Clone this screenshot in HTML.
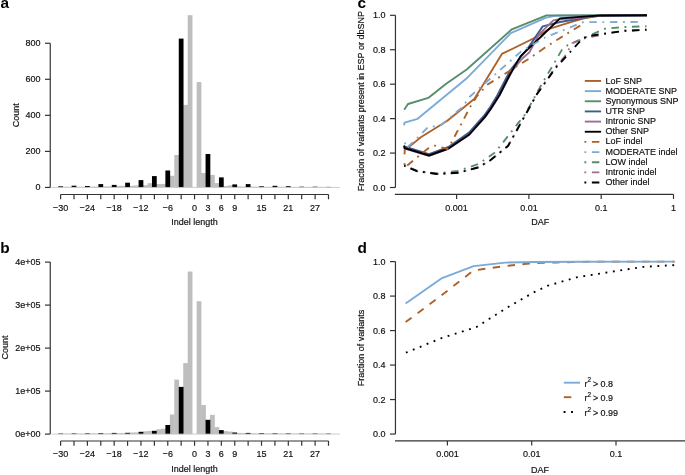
<!DOCTYPE html>
<html><head><meta charset="utf-8"><style>
html,body{margin:0;padding:0;background:#fff;}
svg{display:block;will-change:transform;}
text{font-family:"Liberation Sans",sans-serif;}
</style></head><body>
<svg width="685" height="475" viewBox="0 0 685 475">
<rect width="685" height="475" fill="#fff"/>
<rect x="62.68" y="186.80" width="4.76" height="0.65" fill="#bebebe"/>
<rect x="67.15" y="186.80" width="4.76" height="0.65" fill="#bebebe"/>
<rect x="76.08" y="186.80" width="4.76" height="0.65" fill="#bebebe"/>
<rect x="80.54" y="186.80" width="4.76" height="0.65" fill="#bebebe"/>
<rect x="89.47" y="186.60" width="4.76" height="0.85" fill="#bebebe"/>
<rect x="93.94" y="186.60" width="4.76" height="0.85" fill="#bebebe"/>
<rect x="102.87" y="186.40" width="4.76" height="1.05" fill="#bebebe"/>
<rect x="107.33" y="186.40" width="4.76" height="1.05" fill="#bebebe"/>
<rect x="116.26" y="185.90" width="4.76" height="1.55" fill="#bebebe"/>
<rect x="120.73" y="185.80" width="4.76" height="1.65" fill="#bebebe"/>
<rect x="129.66" y="185.80" width="4.76" height="1.65" fill="#bebebe"/>
<rect x="134.12" y="185.50" width="4.76" height="1.95" fill="#bebebe"/>
<rect x="143.05" y="185.20" width="4.76" height="2.25" fill="#bebebe"/>
<rect x="147.52" y="183.20" width="4.76" height="4.25" fill="#bebebe"/>
<rect x="156.45" y="184.00" width="4.76" height="3.45" fill="#bebebe"/>
<rect x="160.91" y="183.90" width="4.76" height="3.55" fill="#bebebe"/>
<rect x="169.84" y="175.80" width="4.76" height="11.65" fill="#bebebe"/>
<rect x="174.31" y="155.00" width="4.76" height="32.45" fill="#bebebe"/>
<rect x="183.24" y="104.90" width="4.76" height="82.55" fill="#bebebe"/>
<rect x="187.70" y="15.20" width="4.76" height="172.25" fill="#bebebe"/>
<rect x="196.63" y="82.10" width="4.76" height="105.35" fill="#bebebe"/>
<rect x="201.10" y="173.00" width="4.76" height="14.45" fill="#bebebe"/>
<rect x="210.03" y="174.90" width="4.76" height="12.55" fill="#bebebe"/>
<rect x="214.49" y="183.10" width="4.76" height="4.35" fill="#bebebe"/>
<rect x="223.42" y="186.00" width="4.76" height="1.45" fill="#bebebe"/>
<rect x="227.89" y="185.40" width="4.76" height="2.05" fill="#bebebe"/>
<rect x="236.82" y="186.40" width="4.76" height="1.05" fill="#bebebe"/>
<rect x="241.28" y="186.60" width="4.76" height="0.85" fill="#bebebe"/>
<rect x="250.21" y="186.70" width="4.76" height="0.75" fill="#bebebe"/>
<rect x="254.68" y="186.70" width="4.76" height="0.75" fill="#bebebe"/>
<rect x="263.61" y="186.80" width="4.76" height="0.65" fill="#bebebe"/>
<rect x="268.07" y="186.80" width="4.76" height="0.65" fill="#bebebe"/>
<rect x="277.00" y="186.80" width="4.76" height="0.65" fill="#bebebe"/>
<rect x="281.47" y="186.80" width="4.76" height="0.65" fill="#bebebe"/>
<rect x="290.40" y="186.90" width="4.76" height="0.55" fill="#bebebe"/>
<rect x="294.86" y="186.90" width="4.76" height="0.55" fill="#bebebe"/>
<rect x="303.79" y="186.90" width="4.76" height="0.55" fill="#bebebe"/>
<rect x="308.26" y="186.90" width="4.76" height="0.55" fill="#bebebe"/>
<rect x="317.19" y="186.90" width="4.76" height="0.55" fill="#bebebe"/>
<rect x="321.65" y="186.90" width="4.76" height="0.55" fill="#bebebe"/>
<rect x="58.22" y="186.30" width="4.76" height="1.15" fill="#000"/>
<rect x="71.61" y="185.70" width="4.76" height="1.75" fill="#000"/>
<rect x="85.01" y="186.00" width="4.76" height="1.45" fill="#000"/>
<rect x="98.40" y="184.10" width="4.76" height="3.35" fill="#000"/>
<rect x="111.80" y="184.90" width="4.76" height="2.55" fill="#000"/>
<rect x="125.19" y="182.70" width="4.76" height="4.75" fill="#000"/>
<rect x="138.59" y="180.10" width="4.76" height="7.35" fill="#000"/>
<rect x="151.98" y="176.10" width="4.76" height="11.35" fill="#000"/>
<rect x="165.38" y="170.50" width="4.76" height="16.95" fill="#000"/>
<rect x="178.77" y="38.60" width="4.76" height="148.85" fill="#000"/>
<rect x="205.56" y="154.00" width="4.76" height="33.45" fill="#000"/>
<rect x="218.96" y="177.40" width="4.76" height="10.05" fill="#000"/>
<rect x="232.35" y="184.40" width="4.76" height="3.05" fill="#000"/>
<rect x="245.75" y="184.10" width="4.76" height="3.35" fill="#000"/>
<rect x="259.14" y="186.30" width="4.76" height="1.15" fill="#000"/>
<rect x="272.54" y="185.80" width="4.76" height="1.65" fill="#000"/>
<rect x="285.93" y="186.20" width="4.76" height="1.25" fill="#000"/>
<rect x="299.33" y="186.70" width="4.76" height="0.75" fill="#000"/>
<rect x="312.72" y="186.70" width="4.76" height="0.75" fill="#000"/>
<rect x="326.12" y="186.90" width="4.76" height="0.55" fill="#000"/>
<line x1="51.50" y1="187.45" x2="340.00" y2="187.45" stroke="#c8c8c8" stroke-width="0.9" />
<line x1="50.25" y1="43.25" x2="50.25" y2="187.45" stroke="#333" stroke-width="1.2" />
<line x1="45.00" y1="187.45" x2="50.25" y2="187.45" stroke="#333" stroke-width="1.2" />
<text transform="translate(40.60 190.35) scale(1 1.1)" text-anchor="end" font-size="9.0" font-weight="normal" fill="#111" stroke="#111" stroke-width="0.18">0</text>
<line x1="45.00" y1="151.40" x2="50.25" y2="151.40" stroke="#333" stroke-width="1.2" />
<text transform="translate(40.60 154.30) scale(1 1.1)" text-anchor="end" font-size="9.0" font-weight="normal" fill="#111" stroke="#111" stroke-width="0.18">200</text>
<line x1="45.00" y1="115.35" x2="50.25" y2="115.35" stroke="#333" stroke-width="1.2" />
<text transform="translate(40.60 118.25) scale(1 1.1)" text-anchor="end" font-size="9.0" font-weight="normal" fill="#111" stroke="#111" stroke-width="0.18">400</text>
<line x1="45.00" y1="79.30" x2="50.25" y2="79.30" stroke="#333" stroke-width="1.2" />
<text transform="translate(40.60 82.20) scale(1 1.1)" text-anchor="end" font-size="9.0" font-weight="normal" fill="#111" stroke="#111" stroke-width="0.18">600</text>
<line x1="45.00" y1="43.25" x2="50.25" y2="43.25" stroke="#333" stroke-width="1.2" />
<text transform="translate(40.60 46.15) scale(1 1.1)" text-anchor="end" font-size="9.0" font-weight="normal" fill="#111" stroke="#111" stroke-width="0.18">800</text>
<line x1="60.60" y1="194.50" x2="328.50" y2="194.50" stroke="#333" stroke-width="1.2" />
<line x1="60.60" y1="194.50" x2="60.60" y2="199.30" stroke="#333" stroke-width="1.2" />
<line x1="74.00" y1="194.50" x2="74.00" y2="199.30" stroke="#333" stroke-width="1.2" />
<line x1="87.39" y1="194.50" x2="87.39" y2="199.30" stroke="#333" stroke-width="1.2" />
<line x1="100.79" y1="194.50" x2="100.79" y2="199.30" stroke="#333" stroke-width="1.2" />
<line x1="114.18" y1="194.50" x2="114.18" y2="199.30" stroke="#333" stroke-width="1.2" />
<line x1="127.58" y1="194.50" x2="127.58" y2="199.30" stroke="#333" stroke-width="1.2" />
<line x1="140.97" y1="194.50" x2="140.97" y2="199.30" stroke="#333" stroke-width="1.2" />
<line x1="154.37" y1="194.50" x2="154.37" y2="199.30" stroke="#333" stroke-width="1.2" />
<line x1="167.76" y1="194.50" x2="167.76" y2="199.30" stroke="#333" stroke-width="1.2" />
<line x1="181.16" y1="194.50" x2="181.16" y2="199.30" stroke="#333" stroke-width="1.2" />
<line x1="194.55" y1="194.50" x2="194.55" y2="199.30" stroke="#333" stroke-width="1.2" />
<line x1="207.95" y1="194.50" x2="207.95" y2="199.30" stroke="#333" stroke-width="1.2" />
<line x1="221.34" y1="194.50" x2="221.34" y2="199.30" stroke="#333" stroke-width="1.2" />
<line x1="234.74" y1="194.50" x2="234.74" y2="199.30" stroke="#333" stroke-width="1.2" />
<line x1="248.13" y1="194.50" x2="248.13" y2="199.30" stroke="#333" stroke-width="1.2" />
<line x1="261.52" y1="194.50" x2="261.52" y2="199.30" stroke="#333" stroke-width="1.2" />
<line x1="274.92" y1="194.50" x2="274.92" y2="199.30" stroke="#333" stroke-width="1.2" />
<line x1="288.31" y1="194.50" x2="288.31" y2="199.30" stroke="#333" stroke-width="1.2" />
<line x1="301.71" y1="194.50" x2="301.71" y2="199.30" stroke="#333" stroke-width="1.2" />
<line x1="315.11" y1="194.50" x2="315.11" y2="199.30" stroke="#333" stroke-width="1.2" />
<line x1="328.50" y1="194.50" x2="328.50" y2="199.30" stroke="#333" stroke-width="1.2" />
<text transform="translate(60.60 210.80) scale(1 1.1)" text-anchor="middle" font-size="9.0" font-weight="normal" fill="#111" stroke="#111" stroke-width="0.18">−30</text>
<text transform="translate(87.39 210.80) scale(1 1.1)" text-anchor="middle" font-size="9.0" font-weight="normal" fill="#111" stroke="#111" stroke-width="0.18">−24</text>
<text transform="translate(114.18 210.80) scale(1 1.1)" text-anchor="middle" font-size="9.0" font-weight="normal" fill="#111" stroke="#111" stroke-width="0.18">−18</text>
<text transform="translate(140.97 210.80) scale(1 1.1)" text-anchor="middle" font-size="9.0" font-weight="normal" fill="#111" stroke="#111" stroke-width="0.18">−12</text>
<text transform="translate(167.76 210.80) scale(1 1.1)" text-anchor="middle" font-size="9.0" font-weight="normal" fill="#111" stroke="#111" stroke-width="0.18">−6</text>
<text transform="translate(194.55 210.80) scale(1 1.1)" text-anchor="middle" font-size="9.0" font-weight="normal" fill="#111" stroke="#111" stroke-width="0.18">0</text>
<text transform="translate(207.95 210.80) scale(1 1.1)" text-anchor="middle" font-size="9.0" font-weight="normal" fill="#111" stroke="#111" stroke-width="0.18">3</text>
<text transform="translate(221.34 210.80) scale(1 1.1)" text-anchor="middle" font-size="9.0" font-weight="normal" fill="#111" stroke="#111" stroke-width="0.18">6</text>
<text transform="translate(234.74 210.80) scale(1 1.1)" text-anchor="middle" font-size="9.0" font-weight="normal" fill="#111" stroke="#111" stroke-width="0.18">9</text>
<text transform="translate(261.52 210.80) scale(1 1.1)" text-anchor="middle" font-size="9.0" font-weight="normal" fill="#111" stroke="#111" stroke-width="0.18">15</text>
<text transform="translate(288.31 210.80) scale(1 1.1)" text-anchor="middle" font-size="9.0" font-weight="normal" fill="#111" stroke="#111" stroke-width="0.18">21</text>
<text transform="translate(315.11 210.80) scale(1 1.1)" text-anchor="middle" font-size="9.0" font-weight="normal" fill="#111" stroke="#111" stroke-width="0.18">27</text>
<text transform="translate(194.60 225.00) scale(1 1.1)" text-anchor="middle" font-size="9.0" font-weight="normal" fill="#111" stroke="#111" stroke-width="0.18">Indel length</text>
<text transform="translate(19.20 115.30) rotate(-90) scale(1 1.1)" text-anchor="middle" font-size="9.0" font-weight="normal" fill="#111" stroke="#111" stroke-width="0.18">Count</text>
<rect x="62.68" y="433.60" width="4.76" height="0.50" fill="#bebebe"/>
<rect x="67.15" y="433.60" width="4.76" height="0.50" fill="#bebebe"/>
<rect x="76.08" y="433.60" width="4.76" height="0.50" fill="#bebebe"/>
<rect x="80.54" y="433.60" width="4.76" height="0.50" fill="#bebebe"/>
<rect x="89.47" y="433.50" width="4.76" height="0.60" fill="#bebebe"/>
<rect x="93.94" y="433.50" width="4.76" height="0.60" fill="#bebebe"/>
<rect x="102.87" y="433.40" width="4.76" height="0.70" fill="#bebebe"/>
<rect x="107.33" y="433.30" width="4.76" height="0.80" fill="#bebebe"/>
<rect x="116.26" y="433.10" width="4.76" height="1.00" fill="#bebebe"/>
<rect x="120.73" y="433.00" width="4.76" height="1.10" fill="#bebebe"/>
<rect x="129.66" y="432.50" width="4.76" height="1.60" fill="#bebebe"/>
<rect x="134.12" y="432.40" width="4.76" height="1.70" fill="#bebebe"/>
<rect x="143.05" y="431.30" width="4.76" height="2.80" fill="#bebebe"/>
<rect x="147.52" y="430.90" width="4.76" height="3.20" fill="#bebebe"/>
<rect x="156.45" y="429.30" width="4.76" height="4.80" fill="#bebebe"/>
<rect x="160.91" y="428.70" width="4.76" height="5.40" fill="#bebebe"/>
<rect x="169.84" y="414.50" width="4.76" height="19.60" fill="#bebebe"/>
<rect x="174.31" y="379.60" width="4.76" height="54.50" fill="#bebebe"/>
<rect x="183.24" y="363.10" width="4.76" height="71.00" fill="#bebebe"/>
<rect x="187.70" y="271.50" width="4.76" height="162.60" fill="#bebebe"/>
<rect x="196.63" y="301.20" width="4.76" height="132.90" fill="#bebebe"/>
<rect x="201.10" y="405.00" width="4.76" height="29.10" fill="#bebebe"/>
<rect x="210.03" y="414.90" width="4.76" height="19.20" fill="#bebebe"/>
<rect x="214.49" y="427.10" width="4.76" height="7.00" fill="#bebebe"/>
<rect x="223.42" y="431.10" width="4.76" height="3.00" fill="#bebebe"/>
<rect x="227.89" y="431.60" width="4.76" height="2.50" fill="#bebebe"/>
<rect x="236.82" y="432.90" width="4.76" height="1.20" fill="#bebebe"/>
<rect x="241.28" y="433.00" width="4.76" height="1.10" fill="#bebebe"/>
<rect x="250.21" y="433.30" width="4.76" height="0.80" fill="#bebebe"/>
<rect x="254.68" y="433.30" width="4.76" height="0.80" fill="#bebebe"/>
<rect x="263.61" y="433.40" width="4.76" height="0.70" fill="#bebebe"/>
<rect x="268.07" y="433.40" width="4.76" height="0.70" fill="#bebebe"/>
<rect x="277.00" y="433.50" width="4.76" height="0.60" fill="#bebebe"/>
<rect x="281.47" y="433.50" width="4.76" height="0.60" fill="#bebebe"/>
<rect x="290.40" y="433.60" width="4.76" height="0.50" fill="#bebebe"/>
<rect x="294.86" y="433.60" width="4.76" height="0.50" fill="#bebebe"/>
<rect x="303.79" y="433.60" width="4.76" height="0.50" fill="#bebebe"/>
<rect x="308.26" y="433.60" width="4.76" height="0.50" fill="#bebebe"/>
<rect x="317.19" y="433.60" width="4.76" height="0.50" fill="#bebebe"/>
<rect x="321.65" y="433.60" width="4.76" height="0.50" fill="#bebebe"/>
<rect x="58.22" y="433.50" width="4.76" height="0.60" fill="#000"/>
<rect x="71.61" y="433.40" width="4.76" height="0.70" fill="#000"/>
<rect x="85.01" y="433.30" width="4.76" height="0.80" fill="#000"/>
<rect x="98.40" y="433.10" width="4.76" height="1.00" fill="#000"/>
<rect x="111.80" y="432.90" width="4.76" height="1.20" fill="#000"/>
<rect x="125.19" y="432.80" width="4.76" height="1.30" fill="#000"/>
<rect x="138.59" y="431.80" width="4.76" height="2.30" fill="#000"/>
<rect x="151.98" y="430.80" width="4.76" height="3.30" fill="#000"/>
<rect x="165.38" y="425.00" width="4.76" height="9.10" fill="#000"/>
<rect x="178.77" y="386.90" width="4.76" height="47.20" fill="#000"/>
<rect x="205.56" y="419.80" width="4.76" height="14.30" fill="#000"/>
<rect x="218.96" y="430.10" width="4.76" height="4.00" fill="#000"/>
<rect x="232.35" y="432.50" width="4.76" height="1.60" fill="#000"/>
<rect x="245.75" y="432.90" width="4.76" height="1.20" fill="#000"/>
<rect x="259.14" y="433.20" width="4.76" height="0.90" fill="#000"/>
<rect x="272.54" y="433.30" width="4.76" height="0.80" fill="#000"/>
<rect x="285.93" y="433.40" width="4.76" height="0.70" fill="#000"/>
<rect x="299.33" y="433.50" width="4.76" height="0.60" fill="#000"/>
<rect x="312.72" y="433.50" width="4.76" height="0.60" fill="#000"/>
<rect x="326.12" y="433.60" width="4.76" height="0.50" fill="#000"/>
<line x1="51.50" y1="434.10" x2="340.00" y2="434.10" stroke="#c8c8c8" stroke-width="0.9" />
<line x1="50.25" y1="262.10" x2="50.25" y2="434.10" stroke="#333" stroke-width="1.2" />
<line x1="45.00" y1="434.10" x2="50.25" y2="434.10" stroke="#333" stroke-width="1.2" />
<text transform="translate(40.60 437.00) scale(1 1.1)" text-anchor="end" font-size="9.0" font-weight="normal" fill="#111" stroke="#111" stroke-width="0.18">0e+00</text>
<line x1="45.00" y1="391.10" x2="50.25" y2="391.10" stroke="#333" stroke-width="1.2" />
<text transform="translate(40.60 394.00) scale(1 1.1)" text-anchor="end" font-size="9.0" font-weight="normal" fill="#111" stroke="#111" stroke-width="0.18">1e+05</text>
<line x1="45.00" y1="348.10" x2="50.25" y2="348.10" stroke="#333" stroke-width="1.2" />
<text transform="translate(40.60 351.00) scale(1 1.1)" text-anchor="end" font-size="9.0" font-weight="normal" fill="#111" stroke="#111" stroke-width="0.18">2e+05</text>
<line x1="45.00" y1="305.10" x2="50.25" y2="305.10" stroke="#333" stroke-width="1.2" />
<text transform="translate(40.60 308.00) scale(1 1.1)" text-anchor="end" font-size="9.0" font-weight="normal" fill="#111" stroke="#111" stroke-width="0.18">3e+05</text>
<line x1="45.00" y1="262.10" x2="50.25" y2="262.10" stroke="#333" stroke-width="1.2" />
<text transform="translate(40.60 265.00) scale(1 1.1)" text-anchor="end" font-size="9.0" font-weight="normal" fill="#111" stroke="#111" stroke-width="0.18">4e+05</text>
<line x1="60.60" y1="441.00" x2="328.50" y2="441.00" stroke="#333" stroke-width="1.2" />
<line x1="60.60" y1="441.00" x2="60.60" y2="445.80" stroke="#333" stroke-width="1.2" />
<line x1="74.00" y1="441.00" x2="74.00" y2="445.80" stroke="#333" stroke-width="1.2" />
<line x1="87.39" y1="441.00" x2="87.39" y2="445.80" stroke="#333" stroke-width="1.2" />
<line x1="100.79" y1="441.00" x2="100.79" y2="445.80" stroke="#333" stroke-width="1.2" />
<line x1="114.18" y1="441.00" x2="114.18" y2="445.80" stroke="#333" stroke-width="1.2" />
<line x1="127.58" y1="441.00" x2="127.58" y2="445.80" stroke="#333" stroke-width="1.2" />
<line x1="140.97" y1="441.00" x2="140.97" y2="445.80" stroke="#333" stroke-width="1.2" />
<line x1="154.37" y1="441.00" x2="154.37" y2="445.80" stroke="#333" stroke-width="1.2" />
<line x1="167.76" y1="441.00" x2="167.76" y2="445.80" stroke="#333" stroke-width="1.2" />
<line x1="181.16" y1="441.00" x2="181.16" y2="445.80" stroke="#333" stroke-width="1.2" />
<line x1="194.55" y1="441.00" x2="194.55" y2="445.80" stroke="#333" stroke-width="1.2" />
<line x1="207.95" y1="441.00" x2="207.95" y2="445.80" stroke="#333" stroke-width="1.2" />
<line x1="221.34" y1="441.00" x2="221.34" y2="445.80" stroke="#333" stroke-width="1.2" />
<line x1="234.74" y1="441.00" x2="234.74" y2="445.80" stroke="#333" stroke-width="1.2" />
<line x1="248.13" y1="441.00" x2="248.13" y2="445.80" stroke="#333" stroke-width="1.2" />
<line x1="261.52" y1="441.00" x2="261.52" y2="445.80" stroke="#333" stroke-width="1.2" />
<line x1="274.92" y1="441.00" x2="274.92" y2="445.80" stroke="#333" stroke-width="1.2" />
<line x1="288.31" y1="441.00" x2="288.31" y2="445.80" stroke="#333" stroke-width="1.2" />
<line x1="301.71" y1="441.00" x2="301.71" y2="445.80" stroke="#333" stroke-width="1.2" />
<line x1="315.11" y1="441.00" x2="315.11" y2="445.80" stroke="#333" stroke-width="1.2" />
<line x1="328.50" y1="441.00" x2="328.50" y2="445.80" stroke="#333" stroke-width="1.2" />
<text transform="translate(60.60 457.30) scale(1 1.1)" text-anchor="middle" font-size="9.0" font-weight="normal" fill="#111" stroke="#111" stroke-width="0.18">−30</text>
<text transform="translate(87.39 457.30) scale(1 1.1)" text-anchor="middle" font-size="9.0" font-weight="normal" fill="#111" stroke="#111" stroke-width="0.18">−24</text>
<text transform="translate(114.18 457.30) scale(1 1.1)" text-anchor="middle" font-size="9.0" font-weight="normal" fill="#111" stroke="#111" stroke-width="0.18">−18</text>
<text transform="translate(140.97 457.30) scale(1 1.1)" text-anchor="middle" font-size="9.0" font-weight="normal" fill="#111" stroke="#111" stroke-width="0.18">−12</text>
<text transform="translate(167.76 457.30) scale(1 1.1)" text-anchor="middle" font-size="9.0" font-weight="normal" fill="#111" stroke="#111" stroke-width="0.18">−6</text>
<text transform="translate(194.55 457.30) scale(1 1.1)" text-anchor="middle" font-size="9.0" font-weight="normal" fill="#111" stroke="#111" stroke-width="0.18">0</text>
<text transform="translate(207.95 457.30) scale(1 1.1)" text-anchor="middle" font-size="9.0" font-weight="normal" fill="#111" stroke="#111" stroke-width="0.18">3</text>
<text transform="translate(221.34 457.30) scale(1 1.1)" text-anchor="middle" font-size="9.0" font-weight="normal" fill="#111" stroke="#111" stroke-width="0.18">6</text>
<text transform="translate(234.74 457.30) scale(1 1.1)" text-anchor="middle" font-size="9.0" font-weight="normal" fill="#111" stroke="#111" stroke-width="0.18">9</text>
<text transform="translate(261.52 457.30) scale(1 1.1)" text-anchor="middle" font-size="9.0" font-weight="normal" fill="#111" stroke="#111" stroke-width="0.18">15</text>
<text transform="translate(288.31 457.30) scale(1 1.1)" text-anchor="middle" font-size="9.0" font-weight="normal" fill="#111" stroke="#111" stroke-width="0.18">21</text>
<text transform="translate(315.11 457.30) scale(1 1.1)" text-anchor="middle" font-size="9.0" font-weight="normal" fill="#111" stroke="#111" stroke-width="0.18">27</text>
<text transform="translate(194.60 471.50) scale(1 1.1)" text-anchor="middle" font-size="9.0" font-weight="normal" fill="#111" stroke="#111" stroke-width="0.18">Indel length</text>
<text transform="translate(8.30 347.50) rotate(-90) scale(1 1.1)" text-anchor="middle" font-size="9.0" font-weight="normal" fill="#111" stroke="#111" stroke-width="0.18">Count</text>
<line x1="395.45" y1="15.30" x2="395.45" y2="187.50" stroke="#333" stroke-width="1.2" />
<line x1="390.00" y1="187.50" x2="395.45" y2="187.50" stroke="#333" stroke-width="1.2" />
<text transform="translate(385.60 190.60) scale(1 1.1)" text-anchor="end" font-size="9.0" font-weight="normal" fill="#111" stroke="#111" stroke-width="0.18">0.0</text>
<line x1="390.00" y1="153.06" x2="395.45" y2="153.06" stroke="#333" stroke-width="1.2" />
<text transform="translate(385.60 156.16) scale(1 1.1)" text-anchor="end" font-size="9.0" font-weight="normal" fill="#111" stroke="#111" stroke-width="0.18">0.2</text>
<line x1="390.00" y1="118.62" x2="395.45" y2="118.62" stroke="#333" stroke-width="1.2" />
<text transform="translate(385.60 121.72) scale(1 1.1)" text-anchor="end" font-size="9.0" font-weight="normal" fill="#111" stroke="#111" stroke-width="0.18">0.4</text>
<line x1="390.00" y1="84.18" x2="395.45" y2="84.18" stroke="#333" stroke-width="1.2" />
<text transform="translate(385.60 87.28) scale(1 1.1)" text-anchor="end" font-size="9.0" font-weight="normal" fill="#111" stroke="#111" stroke-width="0.18">0.6</text>
<line x1="390.00" y1="49.74" x2="395.45" y2="49.74" stroke="#333" stroke-width="1.2" />
<text transform="translate(385.60 52.84) scale(1 1.1)" text-anchor="end" font-size="9.0" font-weight="normal" fill="#111" stroke="#111" stroke-width="0.18">0.8</text>
<line x1="390.00" y1="15.30" x2="395.45" y2="15.30" stroke="#333" stroke-width="1.2" />
<text transform="translate(385.60 18.40) scale(1 1.1)" text-anchor="end" font-size="9.0" font-weight="normal" fill="#111" stroke="#111" stroke-width="0.18">1.0</text>
<line x1="394.90" y1="194.40" x2="673.50" y2="194.40" stroke="#333" stroke-width="1.2" />
<line x1="456.60" y1="194.40" x2="456.60" y2="199.00" stroke="#333" stroke-width="1.2" />
<text transform="translate(456.60 210.80) scale(1 1.1)" text-anchor="middle" font-size="9.0" font-weight="normal" fill="#111" stroke="#111" stroke-width="0.18">0.001</text>
<line x1="528.90" y1="194.40" x2="528.90" y2="199.00" stroke="#333" stroke-width="1.2" />
<text transform="translate(528.90 210.80) scale(1 1.1)" text-anchor="middle" font-size="9.0" font-weight="normal" fill="#111" stroke="#111" stroke-width="0.18">0.01</text>
<line x1="601.20" y1="194.40" x2="601.20" y2="199.00" stroke="#333" stroke-width="1.2" />
<text transform="translate(601.20 210.80) scale(1 1.1)" text-anchor="middle" font-size="9.0" font-weight="normal" fill="#111" stroke="#111" stroke-width="0.18">0.1</text>
<line x1="673.50" y1="194.40" x2="673.50" y2="199.00" stroke="#333" stroke-width="1.2" />
<text transform="translate(673.50 210.80) scale(1 1.1)" text-anchor="middle" font-size="9.0" font-weight="normal" fill="#111" stroke="#111" stroke-width="0.18">1</text>
<text transform="translate(540.20 224.60) scale(1 1.1)" text-anchor="middle" font-size="9.0" font-weight="normal" fill="#111" stroke="#111" stroke-width="0.18">DAF</text>
<text transform="translate(364.10 101.20) rotate(-90) scale(1 1.1)" text-anchor="middle" font-size="9.0" font-weight="normal" fill="#111" stroke="#111" stroke-width="0.18">Fraction of variants present in ESP or dbSNP</text>
<line x1="395.45" y1="261.60" x2="395.45" y2="434.05" stroke="#333" stroke-width="1.2" />
<line x1="390.00" y1="434.05" x2="395.45" y2="434.05" stroke="#333" stroke-width="1.2" />
<text transform="translate(385.60 437.15) scale(1 1.1)" text-anchor="end" font-size="9.0" font-weight="normal" fill="#111" stroke="#111" stroke-width="0.18">0.0</text>
<line x1="390.00" y1="399.56" x2="395.45" y2="399.56" stroke="#333" stroke-width="1.2" />
<text transform="translate(385.60 402.66) scale(1 1.1)" text-anchor="end" font-size="9.0" font-weight="normal" fill="#111" stroke="#111" stroke-width="0.18">0.2</text>
<line x1="390.00" y1="365.07" x2="395.45" y2="365.07" stroke="#333" stroke-width="1.2" />
<text transform="translate(385.60 368.17) scale(1 1.1)" text-anchor="end" font-size="9.0" font-weight="normal" fill="#111" stroke="#111" stroke-width="0.18">0.4</text>
<line x1="390.00" y1="330.58" x2="395.45" y2="330.58" stroke="#333" stroke-width="1.2" />
<text transform="translate(385.60 333.68) scale(1 1.1)" text-anchor="end" font-size="9.0" font-weight="normal" fill="#111" stroke="#111" stroke-width="0.18">0.6</text>
<line x1="390.00" y1="296.09" x2="395.45" y2="296.09" stroke="#333" stroke-width="1.2" />
<text transform="translate(385.60 299.19) scale(1 1.1)" text-anchor="end" font-size="9.0" font-weight="normal" fill="#111" stroke="#111" stroke-width="0.18">0.8</text>
<line x1="390.00" y1="261.60" x2="395.45" y2="261.60" stroke="#333" stroke-width="1.2" />
<text transform="translate(385.60 264.70) scale(1 1.1)" text-anchor="end" font-size="9.0" font-weight="normal" fill="#111" stroke="#111" stroke-width="0.18">1.0</text>
<line x1="395.00" y1="440.90" x2="685.00" y2="440.90" stroke="#333" stroke-width="1.2" />
<line x1="447.40" y1="440.90" x2="447.40" y2="445.50" stroke="#333" stroke-width="1.2" />
<text transform="translate(447.40 457.40) scale(1 1.1)" text-anchor="middle" font-size="9.0" font-weight="normal" fill="#111" stroke="#111" stroke-width="0.18">0.001</text>
<line x1="531.70" y1="440.90" x2="531.70" y2="445.50" stroke="#333" stroke-width="1.2" />
<text transform="translate(531.70 457.40) scale(1 1.1)" text-anchor="middle" font-size="9.0" font-weight="normal" fill="#111" stroke="#111" stroke-width="0.18">0.01</text>
<line x1="616.00" y1="440.90" x2="616.00" y2="445.50" stroke="#333" stroke-width="1.2" />
<text transform="translate(616.00 457.40) scale(1 1.1)" text-anchor="middle" font-size="9.0" font-weight="normal" fill="#111" stroke="#111" stroke-width="0.18">0.1</text>
<text transform="translate(540.00 472.80) scale(1 1.1)" text-anchor="middle" font-size="9.0" font-weight="normal" fill="#111" stroke="#111" stroke-width="0.18">DAF</text>
<text transform="translate(364.40 348.00) rotate(-90) scale(1 1.1)" text-anchor="middle" font-size="9.0" font-weight="normal" fill="#111" stroke="#111" stroke-width="0.18">Fraction of variants</text>
<text transform="translate(0.50 8.30) scale(1.1 1)" text-anchor="start" font-size="14" font-weight="bold" fill="#000">a</text>
<text transform="translate(0.30 252.60) scale(1.1 1)" text-anchor="start" font-size="14" font-weight="bold" fill="#000">b</text>
<text transform="translate(357.40 7.90) scale(1.1 1)" text-anchor="start" font-size="14" font-weight="bold" fill="#000">c</text>
<text transform="translate(357.50 252.60) scale(1.1 1)" text-anchor="start" font-size="14" font-weight="bold" fill="#000">d</text>
<polyline points="404.50,154.40 404.80,149.80 408.20,147.60 420.80,137.20 447.00,121.00 474.50,98.70 501.90,53.90 533.40,38.50 550.00,28.60 570.00,22.40 583.00,18.60 595.00,16.40 610.00,15.40 647.00,15.30" fill="none" stroke="#ad6129" stroke-width="1.87" stroke-linejoin="round" stroke-linecap="butt"/>
<polyline points="404.10,125.40 404.50,122.70 417.60,118.80 467.40,77.70 510.80,33.20 546.00,17.60 555.00,15.80 647.00,15.30" fill="none" stroke="#7baad8" stroke-width="1.87" stroke-linejoin="round" stroke-linecap="butt"/>
<polyline points="404.20,109.70 408.00,104.00 428.20,97.90 446.50,83.40 466.70,69.50 511.80,29.30 546.50,15.40 647.00,15.30" fill="none" stroke="#568d6b" stroke-width="1.87" stroke-linejoin="round" stroke-linecap="butt"/>
<polyline points="404.10,146.50 429.00,154.20 448.50,147.00 469.00,132.50 484.70,114.80 490.60,106.50 497.50,95.00 510.40,70.00 527.50,48.70 542.70,26.40 547.60,25.20 560.00,22.00 575.00,19.50 587.00,17.40 600.00,15.70 647.00,15.30" fill="none" stroke="#3c5c8e" stroke-width="1.87" stroke-linejoin="round" stroke-linecap="butt"/>
<polyline points="404.10,146.00 404.60,148.50 429.00,155.80 448.50,148.80 469.20,135.00 484.70,117.60 490.60,109.50 499.50,95.50 512.50,70.50 521.40,59.40 529.40,52.30 538.80,34.60 553.30,20.40 559.00,19.40 575.00,18.20 587.00,17.00 600.00,15.60 647.00,15.30" fill="none" stroke="#9c6d94" stroke-width="1.87" stroke-linejoin="round" stroke-linecap="butt"/>
<polyline points="404.10,145.50 404.60,148.00 429.00,155.50 448.50,148.50 469.20,134.50 484.70,117.10 490.60,109.00 499.50,95.00 509.60,75.00 520.60,56.10 542.00,35.80 560.00,18.40 580.00,16.90 600.00,15.50 647.00,15.20" fill="none" stroke="#000000" stroke-width="1.87" stroke-linejoin="round" stroke-linecap="butt"/>
<polyline points="404.40,162.80 404.90,167.50 428.00,148.50 435.00,145.60 448.00,149.00 471.00,105.50 477.00,96.00 487.60,84.50 528.20,59.20 545.00,47.60 557.30,39.70 568.70,32.60 580.50,25.50 583.60,23.20" fill="none" stroke="#ad6129" stroke-width="1.87" stroke-linejoin="round" stroke-linecap="butt" stroke-dasharray="1.87 5.61 7.48 5.61" stroke-dashoffset="-0.25"/>
<polyline points="404.50,141.30 406.50,148.30 428.50,126.80 440.00,126.00 462.00,107.50 470.00,96.50 521.00,51.60 545.00,37.50 583.00,22.20 643.00,21.90" fill="none" stroke="#7baad8" stroke-width="1.87" stroke-linejoin="round" stroke-linecap="butt" stroke-dasharray="1.87 5.61 7.48 5.61" stroke-dashoffset="-1.25"/>
<polyline points="404.20,165.20 417.00,170.80 437.00,173.40 458.00,171.00 478.00,164.20 490.00,156.00 495.00,152.60 525.00,114.50 541.00,85.50 555.40,61.10 562.00,49.60 567.30,45.40 578.00,41.00 592.00,34.50 605.00,28.70 625.00,27.00 646.50,26.30" fill="none" stroke="#568d6b" stroke-width="1.87" stroke-linejoin="round" stroke-linecap="butt" stroke-dasharray="1.87 5.61 7.48 5.61" stroke-dashoffset="0.25"/>
<polyline points="404.20,165.60 417.00,171.20 437.00,174.00 458.00,172.80 478.00,167.50 490.00,160.50 508.00,146.00 537.00,94.00 556.00,66.50 565.00,56.00 572.50,43.00 578.60,40.20 584.80,38.30 591.40,36.80 597.00,35.80 605.00,33.60 625.00,30.80 646.50,29.70" fill="none" stroke="#9c6d94" stroke-width="1.87" stroke-linejoin="round" stroke-linecap="butt" stroke-dasharray="1.87 5.61 7.48 5.61" stroke-dashoffset="-0.25"/>
<polyline points="404.20,165.60 417.00,171.20 437.00,174.00 458.00,172.80 478.00,167.50 490.00,160.50 508.00,146.00 537.00,94.00 556.00,67.50 583.00,38.00 591.00,35.60 605.00,33.60 625.00,30.80 646.50,29.70" fill="none" stroke="#000000" stroke-width="1.87" stroke-linejoin="round" stroke-linecap="butt" stroke-dasharray="1.87 5.61 7.48 5.61" stroke-dashoffset="0.75"/>
<polyline points="584.80,80.95 601.10,80.95" fill="none" stroke="#ad6129" stroke-width="1.87" stroke-linejoin="round" stroke-linecap="butt"/>
<text transform="translate(605.60 83.50) scale(1 1.1)" text-anchor="start" font-size="9.0" font-weight="normal" fill="#111" stroke="#111" stroke-width="0.18">LoF SNP</text>
<polyline points="584.80,91.11 601.10,91.11" fill="none" stroke="#7baad8" stroke-width="1.87" stroke-linejoin="round" stroke-linecap="butt"/>
<text transform="translate(605.60 93.66) scale(1 1.1)" text-anchor="start" font-size="9.0" font-weight="normal" fill="#111" stroke="#111" stroke-width="0.18">MODERATE SNP</text>
<polyline points="584.80,101.27 601.10,101.27" fill="none" stroke="#568d6b" stroke-width="1.87" stroke-linejoin="round" stroke-linecap="butt"/>
<text transform="translate(605.60 103.82) scale(1 1.1)" text-anchor="start" font-size="9.0" font-weight="normal" fill="#111" stroke="#111" stroke-width="0.18">Synonymous SNP</text>
<polyline points="584.80,111.43 601.10,111.43" fill="none" stroke="#3c5c8e" stroke-width="1.87" stroke-linejoin="round" stroke-linecap="butt"/>
<text transform="translate(605.60 113.98) scale(1 1.1)" text-anchor="start" font-size="9.0" font-weight="normal" fill="#111" stroke="#111" stroke-width="0.18">UTR SNP</text>
<polyline points="584.80,121.59 601.10,121.59" fill="none" stroke="#9c6d94" stroke-width="1.87" stroke-linejoin="round" stroke-linecap="butt"/>
<text transform="translate(605.60 124.14) scale(1 1.1)" text-anchor="start" font-size="9.0" font-weight="normal" fill="#111" stroke="#111" stroke-width="0.18">Intronic SNP</text>
<polyline points="584.80,131.75 601.10,131.75" fill="none" stroke="#000000" stroke-width="1.87" stroke-linejoin="round" stroke-linecap="butt"/>
<text transform="translate(605.60 134.30) scale(1 1.1)" text-anchor="start" font-size="9.0" font-weight="normal" fill="#111" stroke="#111" stroke-width="0.18">Other SNP</text>
<polyline points="584.40,141.91 601.10,141.91" fill="none" stroke="#ad6129" stroke-width="1.87" stroke-linejoin="round" stroke-linecap="butt" stroke-dasharray="1.87 5.61 7.48 5.61"/>
<text transform="translate(605.60 144.46) scale(1 1.1)" text-anchor="start" font-size="9.0" font-weight="normal" fill="#111" stroke="#111" stroke-width="0.18">LoF indel</text>
<polyline points="584.40,152.07 601.10,152.07" fill="none" stroke="#7baad8" stroke-width="1.87" stroke-linejoin="round" stroke-linecap="butt" stroke-dasharray="1.87 5.61 7.48 5.61"/>
<text transform="translate(605.60 154.62) scale(1 1.1)" text-anchor="start" font-size="9.0" font-weight="normal" fill="#111" stroke="#111" stroke-width="0.18">MODERATE indel</text>
<polyline points="584.40,162.23 601.10,162.23" fill="none" stroke="#568d6b" stroke-width="1.87" stroke-linejoin="round" stroke-linecap="butt" stroke-dasharray="1.87 5.61 7.48 5.61"/>
<text transform="translate(605.60 164.78) scale(1 1.1)" text-anchor="start" font-size="9.0" font-weight="normal" fill="#111" stroke="#111" stroke-width="0.18">LOW indel</text>
<polyline points="584.40,172.39 601.10,172.39" fill="none" stroke="#9c6d94" stroke-width="1.87" stroke-linejoin="round" stroke-linecap="butt" stroke-dasharray="1.87 5.61 7.48 5.61"/>
<text transform="translate(605.60 174.94) scale(1 1.1)" text-anchor="start" font-size="9.0" font-weight="normal" fill="#111" stroke="#111" stroke-width="0.18">Intronic indel</text>
<polyline points="584.40,182.55 601.10,182.55" fill="none" stroke="#000000" stroke-width="1.87" stroke-linejoin="round" stroke-linecap="butt" stroke-dasharray="1.87 5.61 7.48 5.61"/>
<text transform="translate(605.60 185.10) scale(1 1.1)" text-anchor="start" font-size="9.0" font-weight="normal" fill="#111" stroke="#111" stroke-width="0.18">Other indel</text>
<polyline points="405.90,352.70 441.00,338.30 476.50,327.00 489.00,319.00 508.20,307.00 534.20,292.10 547.90,285.70 576.60,277.30 613.70,271.40 643.30,266.90 674.60,265.10" fill="none" stroke="#000" stroke-width="1.87" stroke-linejoin="round" stroke-linecap="butt" stroke-dasharray="1.87 5.61"/>
<polyline points="405.60,322.10 441.40,295.40 473.60,270.40 505.00,266.10 526.20,263.80 541.00,262.90 556.00,262.50 572.00,262.10 590.00,261.60 674.60,261.60" fill="none" stroke="#ad6129" stroke-width="1.87" stroke-linejoin="round" stroke-linecap="butt" stroke-dasharray="7.48 7.48"/>
<polyline points="405.60,303.50 441.40,278.40 473.60,266.10 505.30,262.60 534.20,262.00 580.00,261.70 674.60,261.60" fill="none" stroke="#7baad8" stroke-width="1.87" stroke-linejoin="round" stroke-linecap="butt"/>
<polyline points="563.80,382.70 580.00,382.70" fill="none" stroke="#7baad8" stroke-width="1.87" stroke-linejoin="round" stroke-linecap="butt"/>
<polyline points="563.80,397.20 578.00,397.20" fill="none" stroke="#ad6129" stroke-width="1.87" stroke-linejoin="round" stroke-linecap="butt" stroke-dasharray="7.48 7.48"/>
<polyline points="563.60,412.00 578.00,412.00" fill="none" stroke="#000" stroke-width="1.87" stroke-linejoin="round" stroke-linecap="butt" stroke-dasharray="1.87 5.61"/>
<text transform="translate(584.6 386.80) scale(1 1.1)" font-size="9" fill="#111" stroke="#111" stroke-width="0.18">r<tspan dy="-4.0" font-size="6.4">2</tspan><tspan dy="4.0" dx="1.8">&gt;</tspan><tspan dx="2.3">0.8</tspan></text>
<text transform="translate(584.6 401.45) scale(1 1.1)" font-size="9" fill="#111" stroke="#111" stroke-width="0.18">r<tspan dy="-4.0" font-size="6.4">2</tspan><tspan dy="4.0" dx="1.8">&gt;</tspan><tspan dx="2.3">0.9</tspan></text>
<text transform="translate(584.6 416.10) scale(1 1.1)" font-size="9" fill="#111" stroke="#111" stroke-width="0.18">r<tspan dy="-4.0" font-size="6.4">2</tspan><tspan dy="4.0" dx="1.8">&gt;</tspan><tspan dx="2.3">0.99</tspan></text>
</svg>
</body></html>
